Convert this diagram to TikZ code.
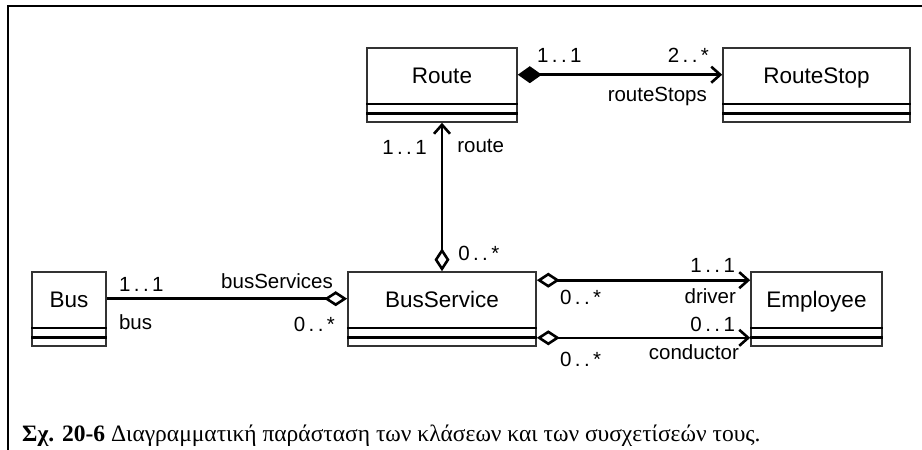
\documentclass[tikz,border=0pt]{standalone}
\usepackage{fontspec}
\setmainfont{Liberation Serif}
\newfontfamily\umlfont{Liberation Sans}
\usepackage{tikz, xcolor}
\usetikzlibrary{arrows.meta, calc, positioning}
\newcommand{\compartments}[1]{% attribute and operation lines under the class name
  \draw [sepline] ($(#1.south west)+(0,19pt)$) -- ($(#1.south east)+(0,19pt)$);
  \draw [sepline] ($(#1.south west)+(0,9.5pt)$) -- ($(#1.south east)+(0,9.5pt)$);
  }
\newcommand{\mlt}[2]{#1\,.\,.\,#2}% multiplicity like 1..1

\begin{document}
\begin{tikzpicture}[
  x=1pt, y=1pt,
  umlclass/.style={
    % The shape:
    rectangle,
    minimum height=74pt,
    inner sep=0pt,
    % The border:
    line width=1.6pt,
    draw=black!80,
    % name sits in the top compartment
    text height=35.5pt,
    text depth=38.5pt,
    % Font
    font=\umlfont\fontsize{22.5}{24}\selectfont
  },
  sepline/.style={line width=2.4pt, black},
  assoc/.style={line width=2.6pt, black},
  mult/.style={font=\umlfont\fontsize{20.5}{21}\selectfont, inner sep=0pt},
  ]

  \useasboundingbox (0,0) rectangle (922,-450);

  % page frame
  \draw [line width=2.5pt] (922,-6) -- (8,-6) -- (8,-450);

  % Loop to create the classes with their empty compartments
  \foreach \name/\x/\y/\w in {Route/442/-85/150, RouteStop/816.5/-85/187,
    Bus/69/-309/74, BusService/442/-309/188, Employee/816.5/-309/131}
  {
    \node (\name) [umlclass, minimum width=\w pt] at (\x,\y) {\name};
    \compartments{\name}
  }

  % composition Route -> RouteStop
  \draw [assoc, {Diamond[length=24pt, width=17pt]}-{Straight Barb[length=9pt, width=16pt]}]
    ([yshift=-27.5pt]Route.north east) -- ([yshift=-27.5pt]RouteStop.north west)
    node [mult, at start, above right=11pt and 18pt] {\mlt{1}{1}}
    node [mult, at end, above left=11pt and 12pt] {\mlt{2}{*}}
    node [mult, at end, below left=11pt and 14pt] {routeStops};

  % aggregation BusService -> Route
  \draw [assoc, {Diamond[open, length=23pt, width=15pt]}-{Straight Barb[length=9pt, width=16pt]}]
    (BusService.north) -- (Route.south)
    node [mult, at end, below left=16pt and 14pt] {\mlt{1}{1}}
    node [mult, at end, below right=15pt and 14pt] {route}
    node [mult, at start, above right=9pt and 15pt] {\mlt{0}{*}};

  % aggregation Bus -- BusService
  \draw [assoc, -{Diamond[open, length=23pt, width=15pt]}]
    ([yshift=-27.5pt]Bus.north east) -- ([yshift=-27.5pt]BusService.north west)
    node [mult, at start, above right=6pt and 11pt] {\mlt{1}{1}}
    node [mult, at start, below right=15pt and 11pt] {bus}
    node [mult, at end, above left=9pt and 13pt] {busServices}
    node [mult, at end, below left=17pt and 11pt] {\mlt{0}{*}};

  % driver and conductor
  \draw [assoc, {Diamond[open, length=23pt, width=15pt]}-{Straight Barb[length=9pt, width=16pt]}]
    ([yshift=-9pt]BusService.north east) -- ([yshift=-9pt]Employee.north west)
    node [mult, at end, above left=6pt and 14pt] {\mlt{1}{1}}
    node [mult, at start, below right=9pt and 22pt] {\mlt{0}{*}}
    node [mult, at end, below left=7pt and 13pt] {driver};
  \draw [assoc, {Diamond[open, length=23pt, width=15pt]}-{Straight Barb[length=9pt, width=16pt]}]
    ([yshift=9pt]BusService.south east) -- ([yshift=9pt]Employee.south west)
    node [mult, at end, above left=5pt and 14pt] {\mlt{0}{1}}
    node [mult, at end, below left=6pt and 10pt] {conductor}
    node [mult, at start, below right=13pt and 22pt] {\mlt{0}{*}};

  % caption
  \node (caption) [anchor=base west, inner sep=0pt, font=\fontsize{23.5}{24}\selectfont] at (22,-441)
    {\textbf{Σχ. 20-6} Διαγραμματική παράσταση των κλάσεων και των συσχετίσεών τους.};

\end{tikzpicture}
\end{document}
